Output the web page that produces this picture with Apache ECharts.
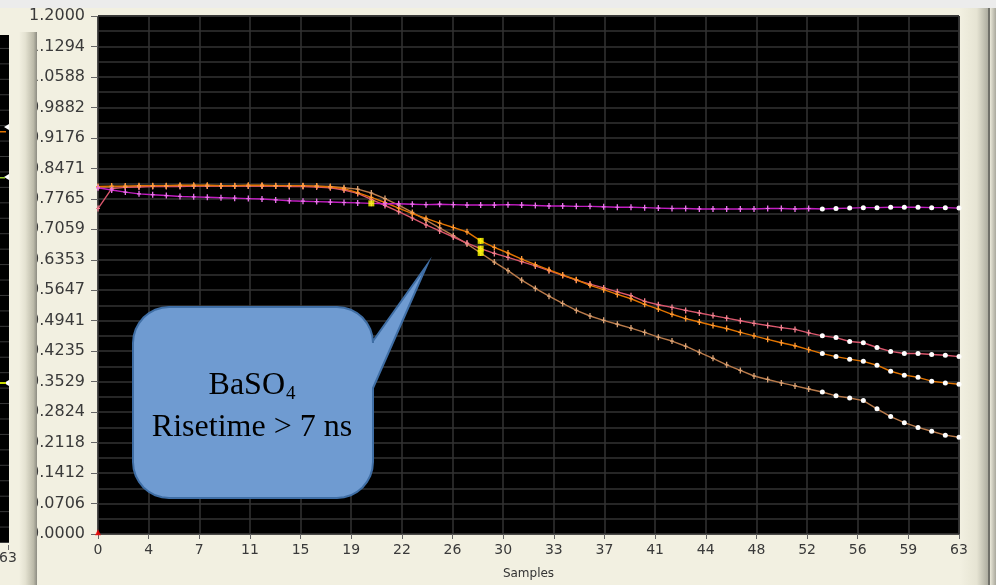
<!DOCTYPE html>
<html>
<head>
<meta charset="utf-8">
<script src="https://cdn.jsdelivr.net/npm/echarts@6/dist/echarts.min.js"></script>
<style>
  html, body { margin: 0; padding: 0; background: #f2f0e1; }
  #chart { width: 996px; height: 585px; }
</style>
</head>
<body>
<div id="chart"></div>
<script>
var dom = document.getElementById("chart");
var chart = echarts.init(dom);

// samples 0..63, one value per sample
var magenta = [0.802,0.797,0.792,0.788,0.786,0.784,0.782,0.781,0.780,0.779,
  0.778,0.777,0.776,0.774,0.772,0.771,0.770,0.769,0.768,0.767,
  0.766,0.765,0.765,0.764,0.763,0.764,0.763,0.762,0.762,0.762,
  0.763,0.762,0.761,0.760,0.760,0.759,0.759,0.758,0.757,0.757,
  0.756,0.755,0.754,0.754,0.753,0.753,0.753,0.753,0.753,0.754,
  0.754,0.753,0.754,0.753,0.754,0.755,0.756,0.756,0.757,0.757,
  0.757,0.756,0.756,0.755];
var orange = [0.805,0.806,0.806,0.807,0.807,0.807,0.808,0.808,0.808,0.807,
  0.807,0.808,0.808,0.807,0.807,0.807,0.806,0.804,0.800,0.791,
  0.780,0.768,0.755,0.742,0.731,0.720,0.710,0.700,0.679,0.664,
  0.651,0.637,0.624,0.612,0.600,0.589,0.576,0.566,0.555,0.545,
  0.532,0.521,0.509,0.499,0.491,0.483,0.476,0.467,0.459,0.451,
  0.443,0.436,0.427,0.418,0.411,0.405,0.400,0.391,0.377,0.368,
  0.363,0.354,0.350,0.347];
var pink = [0.754,0.800,0.803,0.804,0.805,0.805,0.805,0.806,0.806,0.806,
  0.806,0.806,0.806,0.806,0.805,0.805,0.804,0.802,0.797,0.789,
  0.775,0.761,0.747,0.732,0.716,0.702,0.688,0.674,0.661,0.650,
  0.641,0.631,0.621,0.610,0.599,0.588,0.579,0.570,0.561,0.552,
  0.539,0.531,0.525,0.518,0.512,0.506,0.500,0.494,0.488,0.483,
  0.478,0.474,0.466,0.459,0.455,0.446,0.443,0.432,0.423,0.418,
  0.418,0.416,0.414,0.411];
var tan = [0.803,0.804,0.805,0.805,0.806,0.806,0.806,0.806,0.806,0.806,
  0.806,0.806,0.806,0.806,0.806,0.806,0.806,0.805,0.802,0.799,
  0.790,0.777,0.762,0.745,0.727,0.709,0.691,0.672,0.651,0.630,
  0.610,0.588,0.569,0.551,0.534,0.518,0.505,0.495,0.486,0.477,
  0.467,0.456,0.447,0.435,0.421,0.407,0.392,0.379,0.366,0.358,
  0.350,0.343,0.336,0.329,0.320,0.315,0.309,0.290,0.272,0.258,
  0.247,0.238,0.229,0.224];

var whiteFrom = 53;          // samples drawn with white dots
var cursorSample = 28;       // yellow cursor on the three falling traces
var cursorSampleFlat = 20;   // yellow cursor on the flat trace

var crossSymbol = 'path://M2,0H4V10H2Z M0,4H6V6H0Z';

function toData(values) {
  return values.map(function (v, i) {
    if (i >= whiteFrom) {
      return {value: [i, v], symbol: 'circle', symbolSize: 5, itemStyle: {color: '#ffffff'}};
    }
    return [i, v];
  });
}

function trace(values, lineColor, markColor) {
  return {
    type: 'line',
    data: toData(values),
    symbol: crossSymbol,
    symbolSize: [4, 6],
    showSymbol: true,
    lineStyle: {color: lineColor, width: 1.4},
    itemStyle: {color: markColor},
    z: 3
  };
}

// rounded callout outline with a tail on the right
function calloutPoints(x1, y1, x2, y2, r, tail) {
  var pts = [];
  function arc(cx, cy, a0, a1) {
    for (var k = 0; k <= 8; k++) {
      var a = (a0 + (a1 - a0) * k / 8) * Math.PI / 180;
      pts.push([cx + r * Math.cos(a), cy + r * Math.sin(a)]);
    }
  }
  arc(x2 - r, y1 + r, -90, 0);
  pts.push(tail[0], tail[1], tail[2]);
  arc(x2 - r, y2 - r, 0, 90);
  arc(x1 + r, y2 - r, 90, 180);
  arc(x1 + r, y1 + r, 180, 270);
  return pts;
}

var leftGridLines = [];
for (var k = 0; k < 33; k++) {
  var yy = 542 - k * 15.44;
  if (yy > 36) {
    leftGridLines.push({type: 'rect', shape: {x: 0, y: yy, width: 9, height: 1}, style: {fill: '#3a3a3a'}, z: 1});
  }
}

var option = {
  backgroundColor: '#f2f0e1',
  animation: false,
  grid: {
    left: 98, right: 37, top: 16, bottom: 43,
    show: true,
    backgroundColor: '#000000',
    borderColor: '#3a3a3a',
    borderWidth: 1
  },
  xAxis: {
    type: 'value',
    min: 0,
    max: 63,
    interval: 63 / 17,
    name: 'Samples',
    nameLocation: 'middle',
    nameGap: 34,
    nameTextStyle: {color: '#333', fontFamily: 'DejaVu Sans', fontSize: 12},
    axisLine: {show: false},
    axisTick: {length: 5, lineStyle: {color: '#666'}},
    axisLabel: {
      formatter: function (v) { return Math.round(v); },
      color: '#3a3a3a', fontFamily: 'DejaVu Sans', fontSize: 14, margin: 9
    },
    splitLine: {lineStyle: {color: '#333333', width: 1.5}}
  },
  yAxis: {
    type: 'value',
    min: 0,
    max: 1.2,
    interval: 1.2 / 17,
    axisLine: {show: false},
    axisTick: {show: true, length: 7, lineStyle: {color: '#666'}},
    axisLabel: {
      formatter: function (v) { return v.toFixed(4); },
      color: '#3a3a3a', fontFamily: 'DejaVu Sans', fontSize: 16, margin: 13
    },
    splitLine: {lineStyle: {color: '#333333', width: 1.5}},
    minorTick: {show: false, splitNumber: 2},
    minorSplitLine: {show: true, lineStyle: {color: '#333333', width: 1.5}}
  },
  series: [
    trace(tan, '#b97a4a', '#d9a275'),
    trace(pink, '#d9566c', '#f0808f'),
    trace(orange, '#e27400', '#ff9a35'),
    trace(magenta, '#c21ec2', '#e872e8'),
    {
      type: 'scatter',
      symbol: 'rect',
      symbolSize: 6,
      itemStyle: {color: '#ffff00'},
      data: [
        [cursorSample, orange[cursorSample]],
        [cursorSample, pink[cursorSample]],
        [cursorSample, tan[cursorSample]],
        [cursorSampleFlat, magenta[cursorSampleFlat]]
      ],
      z: 5
    },
    {
      type: 'scatter',
      symbol: 'triangle',
      symbolSize: 6,
      itemStyle: {color: '#ff0000'},
      data: [[0, 0.004]],
      z: 5
    }
  ],
  graphic: [
    {type: 'rect', shape: {x: 0, y: 0, width: 996, height: 8}, style: {fill: '#ececec'}, z: 1},
    {type: 'rect', shape: {x: 0, y: 35, width: 9, height: 508}, style: {fill: '#000'}, z: 1}
  ].concat(leftGridLines).concat([
    {type: 'polygon', shape: {points: [[9, 124], [4, 127], [9, 130]]}, style: {fill: '#fff'}, z: 2},
    {type: 'rect', shape: {x: 0, y: 131, width: 6, height: 1.5}, style: {fill: '#e27400'}, z: 2},
    {type: 'polygon', shape: {points: [[9, 174], [4, 177], [9, 180]]}, style: {fill: '#fff'}, z: 2},
    {type: 'rect', shape: {x: 0, y: 177, width: 5, height: 1.5}, style: {fill: '#9acd32'}, z: 2},
    {type: 'polygon', shape: {points: [[9, 380], [4, 383], [9, 386]]}, style: {fill: '#fff'}, z: 2},
    {type: 'rect', shape: {x: 0, y: 382, width: 6, height: 2}, style: {fill: '#c8d800'}, z: 2},
    {type: 'rect', shape: {x: 8, y: 545, width: 1, height: 5}, style: {fill: '#666'}, z: 2},
    {type: 'text', style: {x: 8, y: 558, text: '63', fill: '#3a3a3a', font: '14px "DejaVu Sans"', textAlign: 'center', textVerticalAlign: 'middle'}, z: 2},
    {
      type: 'rect', shape: {x: 19, y: 32, width: 18, height: 553},
      style: {fill: new echarts.graphic.LinearGradient(0, 0, 1, 0, [
        {offset: 0, color: '#f2f0e1'}, {offset: 0.35, color: '#e4e2d1'},
        {offset: 0.8, color: '#bcbaa9'}, {offset: 1, color: '#8d8c82'}
      ])},
      z: 50
    },
    {
      type: 'rect', shape: {x: 960, y: 8, width: 28, height: 577},
      style: {fill: new echarts.graphic.LinearGradient(0, 0, 1, 0, [
        {offset: 0, color: '#f2f0e1'}, {offset: 0.6, color: '#e6e4d3'},
        {offset: 1, color: '#aeada0'}
      ])},
      z: -1
    },
    {type: 'rect', shape: {x: 988, y: 8, width: 2, height: 577}, style: {fill: '#707069'}, z: -1},
    {
      type: 'rect', shape: {x: 990, y: 8, width: 6, height: 577},
      style: {fill: new echarts.graphic.LinearGradient(0, 0, 1, 0, [
        {offset: 0, color: '#ebe9da'}, {offset: 1, color: '#a9a89c'}
      ])},
      z: -1
    },
    {
      type: 'polygon',
      shape: {points: calloutPoints(133, 307, 373, 498, 36, [[373, 341], [427, 265], [373, 388]])},
      style: {fill: '#6f9bd1', stroke: '#3f6ea5', lineWidth: 2},
      z: 100
    },
    {type: 'text', style: {x: 285, y: 386, text: 'BaSO', fill: '#000', font: '32px "Liberation Serif"', textAlign: 'right', textVerticalAlign: 'middle'}, z: 101},
    {type: 'text', style: {x: 286, y: 394, text: '4', fill: '#000', font: '19px "Liberation Serif"', textAlign: 'left', textVerticalAlign: 'middle'}, z: 101},
    {type: 'text', style: {x: 252, y: 428, text: 'Risetime > 7 ns', fill: '#000', font: '32px "Liberation Serif"', textAlign: 'center', textVerticalAlign: 'middle'}, z: 101}
  ])
};

chart.setOption(option, true);
</script>
</body>
</html>
